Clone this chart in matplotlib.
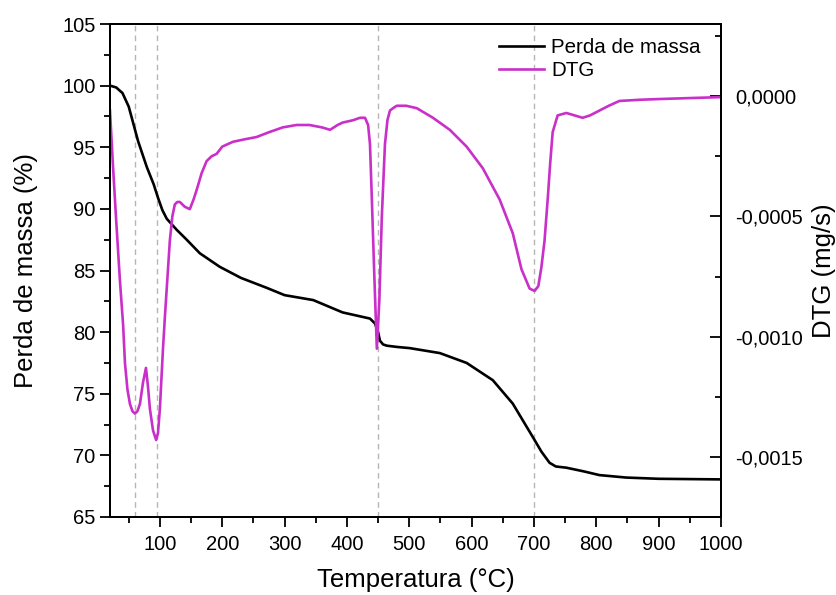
import numpy as np
import matplotlib.pyplot as plt
from matplotlib.ticker import MultipleLocator, FuncFormatter

plt.rcParams['font.family'] = ['Liberation Sans', 'DejaVu Sans']

# -- Data --------------------------------------------------------------------

temp_mass = [20, 30, 40, 50, 57, 65, 79, 90, 97, 104, 111, 127, 143, 164, 196,
             230, 271, 300, 346, 393, 437, 445, 450, 453, 458, 464, 480, 501,
             549, 592, 634, 666, 698, 712, 725, 735, 752, 780, 805, 848, 900,
             1000]
mass = [100.0, 99.85, 99.4, 98.3, 97.0, 95.5, 93.4, 92.0, 90.9, 89.9, 89.2,
        88.3, 87.5, 86.4, 85.3, 84.4, 83.6, 83.0, 82.6, 81.6, 81.1, 80.7,
        80.0, 79.3, 79.0, 78.9, 78.8, 78.7, 78.3, 77.5, 76.1, 74.2, 71.5,
        70.3, 69.4, 69.1, 69.0, 68.7, 68.4, 68.2, 68.1, 68.05]

temp_dtg = [20, 25, 30, 36, 41, 44, 48, 52, 56, 60, 64, 68, 73, 77.7, 81, 84,
            89, 94, 97, 100, 103, 105, 108, 111, 116, 120, 124, 128, 132, 140,
            148, 154, 159, 167, 175, 183, 191, 200, 217, 235, 255, 275, 297,
            319, 340, 360, 373, 385, 393, 410, 421, 429, 434, 437, 440, 444,
            448, 452, 456, 461, 465, 469, 474, 480, 495, 512, 538, 565, 592,
            618, 645, 666, 680, 693, 701, 707, 712, 717, 722, 726, 730, 738,
            752, 765, 778, 790, 805, 820, 837, 870, 901, 950, 1000]
dtg = [-0.00006, -0.00030, -0.00052, -0.00077, -0.00095, -0.00111, -0.00122,
       -0.00128, -0.00131, -0.00132, -0.00131, -0.00128, -0.00119, -0.00113,
       -0.00121, -0.00130, -0.00139, -0.00143, -0.00140, -0.00130, -0.00115,
       -0.00105, -0.00092, -0.00080, -0.00060, -0.00050, -0.00045, -0.00044,
       -0.00044, -0.00046, -0.00047, -0.00043, -0.00039, -0.00032, -0.00027,
       -0.00025, -0.00024, -0.00021, -0.00019, -0.00018, -0.00017, -0.00015,
       -0.00013, -0.00012, -0.00012, -0.00013, -0.00014, -0.00012, -0.00011,
       -0.00010, -0.00009, -0.00009, -0.00012, -0.00020, -0.00043, -0.00075,
       -0.00105, -0.00085, -0.00050, -0.00020, -0.00010, -0.00006, -0.00005,
       -0.00004, -0.00004, -0.00005, -0.00009, -0.00014, -0.00021, -0.00030,
       -0.00043, -0.00057, -0.00072, -0.00080, -0.00081, -0.00079, -0.00071,
       -0.00060, -0.00043, -0.00028, -0.00015, -0.00008, -0.00007, -0.00008,
       -0.00009, -0.00008, -0.00006, -0.00004, -0.00002, -0.000015,
       -0.000012, -0.000008, -0.000004]

peaks = [60, 95, 450, 700]

# -- Plot ----------------------------------------------------------------------

fig = plt.figure(figsize=(8.37, 5.95), dpi=100)
ax = fig.add_axes([110 / 837, 1 - 517 / 595, 611 / 837, 493 / 595])
ax2 = ax.twinx()

for p in peaks:
    ax.axvline(p, color="#b5b5b5", linestyle=(0, (4, 3)), linewidth=1.0, zorder=0)

l1, = ax.plot(temp_mass, mass, color="black", linewidth=1.9, label="Perda de massa")
l2, = ax2.plot(temp_dtg, dtg, color="#c92fc9", linewidth=1.9, label="DTG")

ax.set_xlim(20, 1000)
ax.set_ylim(65, 105)
ax2.set_ylim(-0.00175, 0.0003)

ax.xaxis.set_major_locator(MultipleLocator(100))
ax.xaxis.set_minor_locator(MultipleLocator(50))
ax.yaxis.set_major_locator(MultipleLocator(5))
ax.yaxis.set_minor_locator(MultipleLocator(2.5))
ax2.yaxis.set_major_locator(MultipleLocator(0.0005))
ax2.yaxis.set_minor_locator(MultipleLocator(0.00025))
ax2.yaxis.set_major_formatter(FuncFormatter(
    lambda v, pos: f"{v:.4f}".replace(".", ",").replace("-0,0000", "0,0000")))

ax.tick_params(axis="both", which="major", direction="out", length=7, width=1.3,
               labelsize=14.5, colors="black")
ax.tick_params(axis="x", which="major", pad=6)
ax.tick_params(axis="both", which="minor", direction="out", length=4, width=1.3)
ax2.tick_params(axis="y", which="major", direction="in", length=8, width=1.3,
                labelsize=14.5, pad=10)
ax2.tick_params(axis="y", which="minor", direction="in", length=4, width=1.3)

for a in (ax, ax2):
    for s in a.spines.values():
        s.set_linewidth(1.4)

ax.set_xlabel("Temperatura (°C)", fontsize=18.5, labelpad=10)
ax.set_ylabel("Perda de massa (%)", fontsize=18.5, labelpad=17)
ax2.set_ylabel("DTG (mg/s)", fontsize=18.5, labelpad=7)

ax.legend(handles=[l1, l2], loc="upper right", frameon=False, fontsize=14.8,
          handlelength=2.2, handletextpad=0.35, labelspacing=0.2,
          bbox_to_anchor=(0.99, 1.0), borderaxespad=0.3)

fig.savefig("out.png", dpi=100)
